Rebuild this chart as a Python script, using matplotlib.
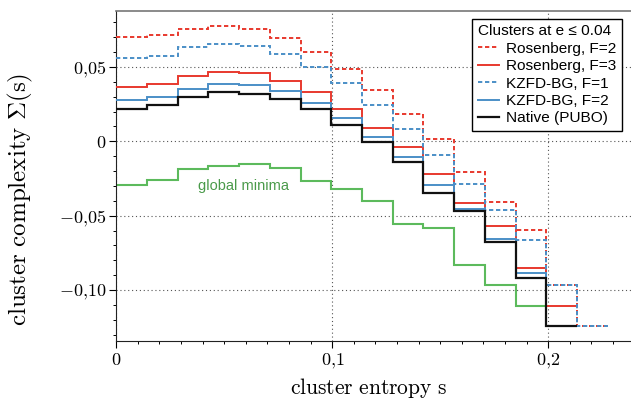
import numpy as np
import matplotlib
matplotlib.use("Agg")
import matplotlib.pyplot as plt
from matplotlib.ticker import MultipleLocator, FixedLocator, FuncFormatter

plt.rcParams["mathtext.fontset"] = "cm"
plt.rcParams["font.family"] = ["Liberation Sans", "DejaVu Sans"]

# Histogram bin width in cluster entropy s
bin_width = 0.01422

# Cluster complexity Sigma(s) per entropy bin
rosenberg_f2 = [0.0703, 0.0716, 0.0757, 0.0775, 0.0753, 0.0692, 0.0600, 0.0484,
                0.0343, 0.0183, 0.0017, -0.0208, -0.0410, -0.0598, -0.0966, -0.1241]
rosenberg_f3 = [0.0367, 0.0387, 0.0439, 0.0466, 0.0461, 0.0407, 0.0331, 0.0219,
                0.0091, -0.0038, -0.0222, -0.0412, -0.0569, -0.0854, -0.1105]
kzfd_f1 = [0.0562, 0.0575, 0.0632, 0.0656, 0.0638, 0.0589, 0.0497, 0.0390,
           0.0244, 0.0081, -0.0090, -0.0289, -0.0460, -0.0663, -0.0966, -0.1241]
kzfd_f2 = [0.0276, 0.0298, 0.0349, 0.0383, 0.0376, 0.0338, 0.0255, 0.0156,
           0.0031, -0.0103, -0.0292, -0.0457, -0.0657, -0.0885, -0.1241]
native = [0.0219, 0.0244, 0.0300, 0.0331, 0.0320, 0.0286, 0.0215, 0.0112,
          -0.0007, -0.0137, -0.0345, -0.0468, -0.0677, -0.0921, -0.1241]
global_minima = [-0.0292, -0.0260, -0.0184, -0.0164, -0.0155, -0.0177, -0.0267,
                 -0.0321, -0.0401, -0.0556, -0.0585, -0.0829, -0.0966, -0.1105]

series_labels = ["Rosenberg, F=2", "Rosenberg, F=3", "KZFD-BG, F=1",
                 "KZFD-BG, F=2", "Native (PUBO)"]
legend_title = "Clusters at e \u2264 0.04"

x_ticks = [0.0, 0.1, 0.2]
y_ticks = [-0.10, -0.05, 0.0, 0.05]

RED = "#e8392e"
BLUE = "#4b8fc7"
GREEN = "#5cba5c"
BLACK = "#111111"

fig = plt.figure(figsize=(6.31, 4.01), dpi=100)
ax = fig.add_axes([0.1843, 0.1496, 0.8157, 0.823])


def edges(vals):
    return np.arange(len(vals) + 1) * bin_width


dash = (0, (2.2, 1.4))
lw = 1.4

ax.stairs(global_minima, edges(global_minima), baseline=None, color=GREEN, lw=1.5, zorder=2)
h1 = ax.stairs(rosenberg_f2, edges(rosenberg_f2), baseline=None, color=RED, lw=lw,
               linestyle=dash, zorder=3)
h2 = ax.stairs(rosenberg_f3, edges(rosenberg_f3), baseline=None, color=RED, lw=lw, zorder=3)
h3 = ax.stairs(kzfd_f1, edges(kzfd_f1), baseline=None, color=BLUE, lw=lw,
               linestyle=dash, zorder=4)
h4 = ax.stairs(kzfd_f2, edges(kzfd_f2), baseline=None, color=BLUE, lw=lw, zorder=4)
h5 = ax.stairs(native, edges(native), baseline=None, color=BLACK, lw=1.6, zorder=5)

ax.text(0.0587, -0.030, "global minima", color="#4a9a4a", fontsize=10.5,
        ha="center", va="center")

ax.set_xlim(0, 0.2383)
ax.set_ylim(-0.1342, 0.0876)


def comma_fmt(v, pos, nd):
    if abs(v) < 1e-12:
        return r"$0$"
    s = f"{v:.{nd}f}".replace(".", "{,}")
    return "$" + s + "$"


ax.xaxis.set_major_locator(FixedLocator(x_ticks))
ax.yaxis.set_major_locator(FixedLocator(y_ticks))
ax.xaxis.set_minor_locator(MultipleLocator(0.01))
ax.yaxis.set_minor_locator(MultipleLocator(0.01))
ax.xaxis.set_major_formatter(FuncFormatter(lambda v, p: comma_fmt(v, p, 1)))
ax.yaxis.set_major_formatter(FuncFormatter(lambda v, p: comma_fmt(v, p, 2)))

ax.tick_params(which="major", direction="out", length=5, width=0.8, labelsize=13, pad=2)
ax.tick_params(which="minor", direction="out", length=2.5, width=0.7)
ax.tick_params(axis="x", which="major", pad=3)

ax.grid(True, which="major", linestyle=(0, (1, 2.5)), color="#555555", lw=0.8, zorder=0)

ax.spines["right"].set_visible(False)
ax.spines["top"].set_color("#777777")
ax.spines["top"].set_linewidth(1.2)
ax.spines["left"].set_color("#222222")
ax.spines["bottom"].set_color("#222222")

ax.set_xlabel(r"$\mathrm{cluster\ entropy\ s}$", fontsize=15.5)
ax.xaxis.label.set_va("center")
ax.xaxis.set_label_coords(0.49, -0.143)
ax.set_ylabel(r"$\mathrm{cluster\ complexity\ }\Sigma(\mathrm{s})$", fontsize=18)
ax.yaxis.label.set_va("center")
ax.yaxis.set_label_coords(-0.187, 0.43)

leg = ax.legend([h1, h2, h3, h4, h5], series_labels, title=legend_title,
                loc="upper right", bbox_to_anchor=(0.9825, 0.9758), borderaxespad=0,
                frameon=True, fancybox=False, edgecolor="black", framealpha=1,
                fontsize=11.1, title_fontsize=11.1, alignment="left",
                handlelength=1.4, handletextpad=0.45, labelspacing=0.22, borderpad=0.35)
leg.get_frame().set_linewidth(1.0)

fig.savefig("out.png", dpi=100)
